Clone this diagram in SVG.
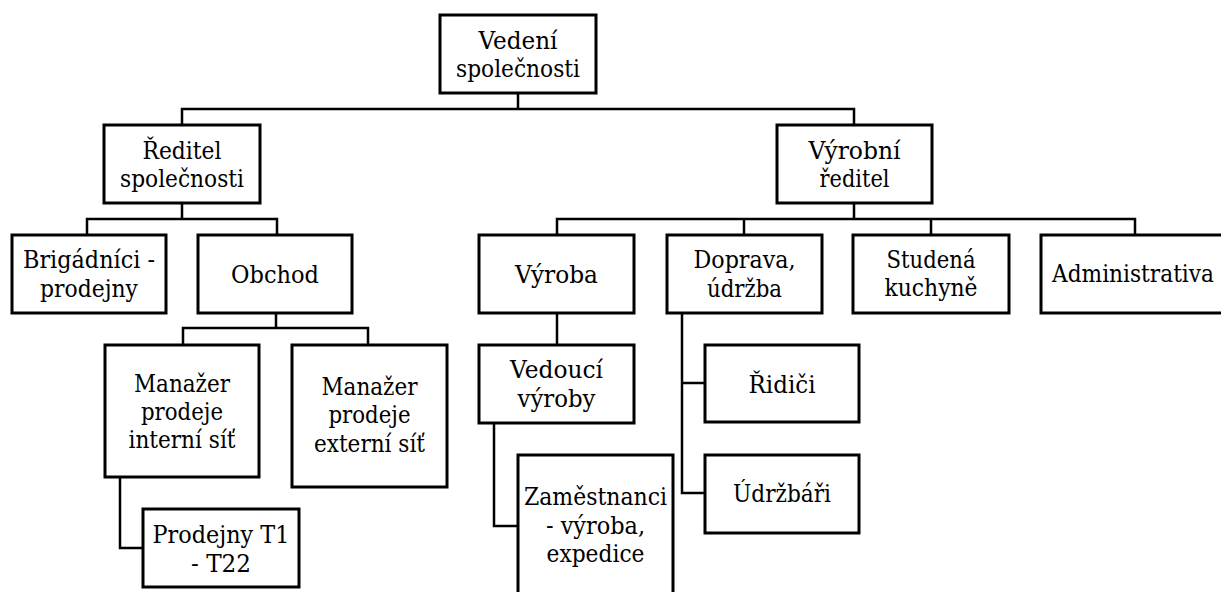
<svg xmlns="http://www.w3.org/2000/svg" width="1221" height="592" viewBox="0 0 1221 592">
<style>
.box{fill:#fff;stroke:#000;stroke-width:3}
.con{fill:none;stroke:#000;stroke-width:2.5}
.t{font-family:'DejaVu Serif','Liberation Serif','Times New Roman',serif;font-size:24px;fill:#000;text-anchor:middle}
</style>
<rect width="1221" height="592" fill="#fff"/>
<g id="connectors">
<path class="con" d="M518 93V109M182 125V109H854V125"/>
<path class="con" d="M182 203V219M87 235V219H277V235"/>
<path class="con" d="M276 313V328M183 345V328H368V345"/>
<path class="con" d="M120 477V548H143"/>
<path class="con" d="M854 203V219M557 235V219H1135V235M744 219V235M931 219V235"/>
<path class="con" d="M557 313V345"/>
<path class="con" d="M494 423V526H518"/>
<path class="con" d="M682 313V493H705M682 383H705"/>
</g>
<g id="vedeni"><rect class="box" x="440" y="15" width="156" height="78"/><text class="t" x="518" y="49" textLength="79" lengthAdjust="spacingAndGlyphs">Vedení</text><text class="t" x="518" y="77" textLength="124" lengthAdjust="spacingAndGlyphs">společnosti</text></g>
<g id="reditel"><rect class="box" x="104" y="125" width="156" height="78"/><text class="t" x="182" y="159" textLength="79" lengthAdjust="spacingAndGlyphs">Ředitel</text><text class="t" x="182" y="187" textLength="124" lengthAdjust="spacingAndGlyphs">společnosti</text></g>
<g id="vyrobni"><rect class="box" x="777" y="125" width="155" height="78"/><text class="t" x="854.5" y="159" textLength="92" lengthAdjust="spacingAndGlyphs">Výrobní</text><text class="t" x="854.5" y="187" textLength="70" lengthAdjust="spacingAndGlyphs">ředitel</text></g>
<g id="brigadnici"><rect class="box" x="12" y="235" width="154" height="78"/><text class="t" x="89" y="268" textLength="132" lengthAdjust="spacingAndGlyphs">Brigádníci -</text><text class="t" x="89" y="297" textLength="98" lengthAdjust="spacingAndGlyphs">prodejny</text></g>
<g id="obchod"><rect class="box" x="198" y="235" width="154" height="78"/><text class="t" x="275" y="283" textLength="88" lengthAdjust="spacingAndGlyphs">Obchod</text></g>
<g id="vyroba"><rect class="box" x="479" y="235" width="155" height="78"/><text class="t" x="556.5" y="283" textLength="83" lengthAdjust="spacingAndGlyphs">Výroba</text></g>
<g id="doprava"><rect class="box" x="667" y="235" width="155" height="78"/><text class="t" x="744.5" y="268" textLength="102" lengthAdjust="spacingAndGlyphs">Doprava,</text><text class="t" x="744.5" y="297" textLength="75" lengthAdjust="spacingAndGlyphs">údržba</text></g>
<g id="studena"><rect class="box" x="853" y="235" width="156" height="78"/><text class="t" x="931" y="268" textLength="89" lengthAdjust="spacingAndGlyphs">Studená</text><text class="t" x="931" y="296" textLength="93" lengthAdjust="spacingAndGlyphs">kuchyně</text></g>
<g id="administrativa"><rect class="box" x="1041" y="235" width="190" height="78"/><text class="t" x="1133" y="282" textLength="162" lengthAdjust="spacingAndGlyphs">Administrativa</text></g>
<g id="manazer-interni"><rect class="box" x="105" y="345" width="154" height="132"/><text class="t" x="182" y="392" textLength="96" lengthAdjust="spacingAndGlyphs">Manažer</text><text class="t" x="182" y="420" textLength="82" lengthAdjust="spacingAndGlyphs">prodeje</text><text class="t" x="182" y="448" textLength="107" lengthAdjust="spacingAndGlyphs">interní síť</text></g>
<g id="manazer-externi"><rect class="box" x="292" y="345" width="155" height="142"/><text class="t" x="369.5" y="395" textLength="96" lengthAdjust="spacingAndGlyphs">Manažer</text><text class="t" x="369.5" y="423" textLength="82" lengthAdjust="spacingAndGlyphs">prodeje</text><text class="t" x="369.5" y="452" textLength="111" lengthAdjust="spacingAndGlyphs">externí síť</text></g>
<g id="prodejny"><rect class="box" x="143" y="509" width="156" height="78"/><text class="t" x="221" y="543" textLength="137" lengthAdjust="spacingAndGlyphs">Prodejny T1</text><text class="t" x="221" y="572" textLength="60" lengthAdjust="spacingAndGlyphs">- T22</text></g>
<g id="vedouci"><rect class="box" x="479" y="345" width="155" height="78"/><text class="t" x="556.5" y="378" textLength="93" lengthAdjust="spacingAndGlyphs">Vedoucí</text><text class="t" x="556.5" y="407" textLength="78" lengthAdjust="spacingAndGlyphs">výroby</text></g>
<g id="zamestnanci"><rect class="box" x="518" y="455" width="155" height="150"/><text class="t" x="595.5" y="505" textLength="143" lengthAdjust="spacingAndGlyphs">Zaměstnanci</text><text class="t" x="595.5" y="534" textLength="99" lengthAdjust="spacingAndGlyphs">- výroba,</text><text class="t" x="595.5" y="562" textLength="98" lengthAdjust="spacingAndGlyphs">expedice</text></g>
<g id="ridici"><rect class="box" x="705" y="345" width="154" height="77"/><text class="t" x="782" y="393" textLength="67" lengthAdjust="spacingAndGlyphs">Řidiči</text></g>
<g id="udrzbari"><rect class="box" x="705" y="455" width="154" height="78"/><text class="t" x="782" y="502" textLength="98" lengthAdjust="spacingAndGlyphs">Údržbáři</text></g>
</svg>
